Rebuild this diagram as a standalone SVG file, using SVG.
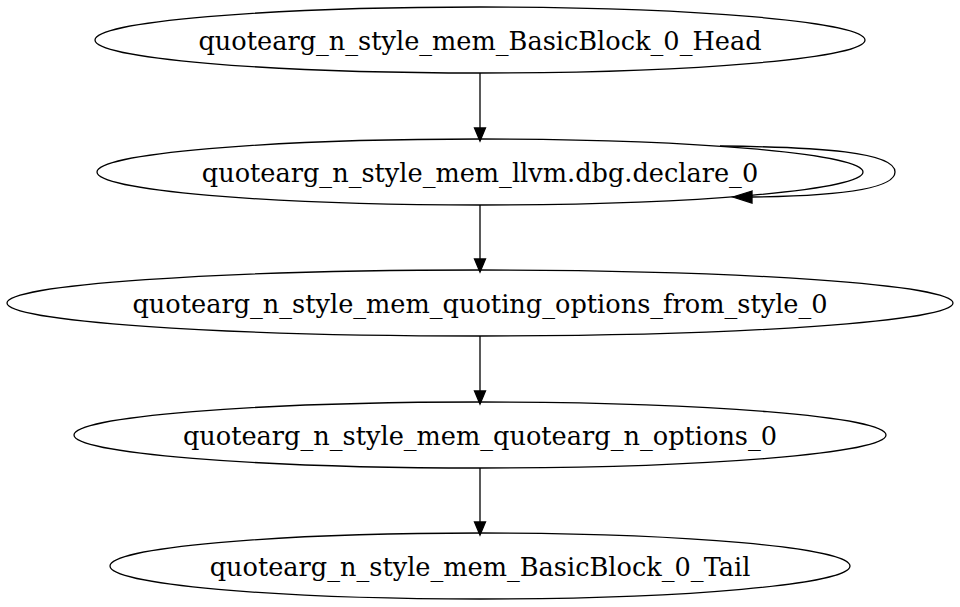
<svg xmlns="http://www.w3.org/2000/svg" width="960" height="607" viewBox="0 0 960 607">
<style>
.n ellipse{fill:none;stroke:#000;stroke-width:1.3}
.n text{font-family:"DejaVu Serif","Liberation Serif",serif;font-size:25.6px;text-anchor:middle;fill:#000}
.e path{fill:none;stroke:#000;stroke-width:1.3}
.e polygon{fill:#000;stroke:#000;stroke-width:1.3}
</style>
<rect width="960" height="607" fill="#fff"/>
<g id="edges" class="e">
<path d="M480,73 L480,128"/>
<polygon points="474.5,128 480,141 485.5,128"/>
<path d="M720,146 C820,147 895,152 895,172 C895,189 840,196 752,197"/>
<polygon points="752,191 733,197 752,203"/>
<path d="M480,205 L480,259"/>
<polygon points="474.5,259 480,272 485.5,259"/>
<path d="M480,336 L480,391"/>
<polygon points="474.5,391 480,404 485.5,391"/>
<path d="M480,468 L480,522"/>
<polygon points="474.5,522 480,535 485.5,522"/>
</g>
<g id="n1" class="n"><ellipse cx="480" cy="40" rx="385" ry="33"/><text x="480" y="49.5">quotearg_n_style_mem_BasicBlock_0_Head</text></g>
<g id="n2" class="n"><ellipse cx="480" cy="172" rx="383" ry="33"/><text x="480" y="181.5">quotearg_n_style_mem_llvm.dbg.declare_0</text></g>
<g id="n3" class="n"><ellipse cx="480" cy="303" rx="473" ry="33"/><text x="480" y="312.5">quotearg_n_style_mem_quoting_options_from_style_0</text></g>
<g id="n4" class="n"><ellipse cx="480" cy="435" rx="406" ry="33"/><text x="480" y="444.5">quotearg_n_style_mem_quotearg_n_options_0</text></g>
<g id="n5" class="n"><ellipse cx="480" cy="566" rx="370" ry="33"/><text x="480" y="575.5">quotearg_n_style_mem_BasicBlock_0_Tail</text></g>
</svg>
